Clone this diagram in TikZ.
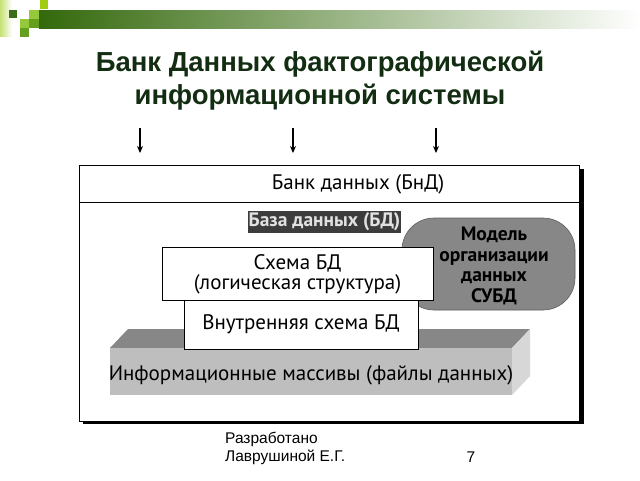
\documentclass[tikz,border=0pt]{standalone}
\usepackage{fontspec}
\setmainfont{Liberation Sans}
\newfontfamily\dfont{PT Sans}
\usetikzlibrary{arrows.meta}
\definecolor{titlecol}{RGB}{18,45,18}
\definecolor{gdark}{RGB}{52,105,12}
\definecolor{gsq}{RGB}{60,110,25}
\definecolor{gyel}{RGB}{160,205,20}
\definecolor{glight}{RGB}{150,200,60}
\definecolor{gmid}{RGB}{100,160,30}
\definecolor{bdbg}{RGB}{60,60,60}
\definecolor{bdtext}{RGB}{225,225,225}
\definecolor{modelbg}{RGB}{135,135,135}
\definecolor{slabfront}{RGB}{190,190,190}
\definecolor{slabtop}{RGB}{135,135,135}
\definecolor{slabside}{RGB}{215,215,215}
\tikzset{
  whitebox/.style={draw=black, line width=0.8pt, fill=white},
  dtext/.style={font=\dfont\fontsize{21}{20}\selectfont, align=center, inner sep=0pt},
  dbold/.style={font=\dfont\bfseries\fontsize{19.5}{20.5}\selectfont, align=center, inner sep=0pt},
  inarrow/.style={-{Stealth[length=7pt,width=6pt]}, line width=1.1pt},
}
\begin{document}
\begin{tikzpicture}[x=1pt,y=-1pt]
\useasboundingbox (0,0) rectangle (640,480);
% top decoration
\shade[left color=gdark, right color=white] (39,10) rectangle (640,28);
\shade[left color=gyel!60, right color=white] (0,0) rectangle (12,36);
\fill[gsq] (9,10) rectangle (17,18);
\fill[gyel] (40,0) rectangle (48,9);
\fill[glight] (29,10) rectangle (39,19);
\fill[glight] (20,19) rectangle (29,28);
\fill[gmid] (29,19) rectangle (39,28);
\fill[gmid] (20,28) rectangle (29,37);
% title
\node[font=\bfseries\fontsize{27.5}{33}\selectfont, text=titlecol, align=center] (title) at (320,81)
  {Банк Данных фактографической\\информационной системы};
% arrows
\coordinate (a1s) at (140,128); \coordinate (a1e) at (140,153);
\coordinate (a2s) at (293,128); \coordinate (a2e) at (293,153);
\coordinate (a3s) at (436,128); \coordinate (a3e) at (436,153);
\draw[inarrow] (a1s) -- (a1e);
\draw[inarrow] (a2s) -- (a2e);
\draw[inarrow] (a3s) -- (a3e);
% outer box with shadow
\fill[black] (579,169) rectangle (584,424);
\fill[black] (83,421) rectangle (584,424);
\draw[line width=0.9pt, fill=white] (79,165) rectangle (579,421);
\draw[line width=0.9pt] (79,202) -- (579,202);
\node[dtext] (bnd) at (358,184) {Банк данных (БнД)};
% model shape
\draw[fill=modelbg, draw=modelbg!70!black, line width=0.6pt, rounded corners=32pt] (402,218) rectangle (575,310);
\node[dbold] (model) at (494,266) {Модель\\организации\\данных\\СУБД};
% BD label
\fill[bdbg] (248,211) rectangle (401,233);
\node[font=\dfont\bfseries\fontsize{19.5}{20}\selectfont, text=bdtext, inner sep=0pt] (bd) at (324.5,222) {База данных (БД)};
% slab
\fill[slabtop] (110,348) -- (128,329) -- (530,329) -- (512,348) -- cycle;
\fill[slabside] (512,348) -- (530,329) -- (530,376) -- (512,395) -- cycle;
\fill[slabfront] (110,348) rectangle (512,395);
\node[dtext] (info) at (311,375) {Информационные массивы (файлы данных)};
% schema boxes
\draw[whitebox] (162,247) rectangle (433,300);
\node[dtext] (schema) at (297.5,274) {Схема БД\\(логическая структура)};
\draw[whitebox] (184,300) rectangle (418,349);
\node[dtext] (inner) at (301,324) {Внутренняя схема БД};
% footer
\node[font=\fontsize{15.5}{18}\selectfont, anchor=west, align=left, inner sep=0pt] (footer) at (225,448) {Разработано\\Лаврушиной Е.Г.};
\node[font=\fontsize{15.5}{18}\selectfont, inner sep=0pt] (page) at (471,457) {7};
\end{tikzpicture}
\end{document}
